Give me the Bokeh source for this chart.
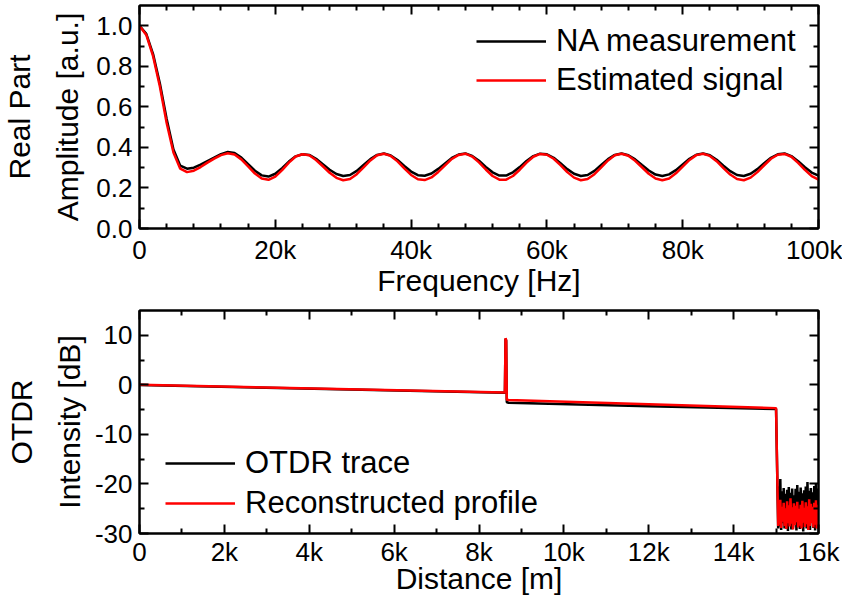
from bokeh.plotting import figure
from bokeh.layouts import column
from bokeh.models import (FixedTicker, LinearAxis, Legend, LegendItem, Range1d,
                          CustomLabelingPolicy)
from bokeh.embed import file_html
from bokeh.resources import INLINE

FONT = "Liberation Sans"

# ---------------- top panel data (frequency in Hz) ----------------
freq_hz = [i * 1000 for i in range(0, 101)]
na_measurement = [
    1.000, 0.960, 0.860, 0.715, 0.540, 0.390, 0.310, 0.295, 0.300, 0.315,
    0.333, 0.350, 0.367, 0.377, 0.372, 0.350, 0.317, 0.285, 0.262, 0.256,
    0.270, 0.298, 0.330, 0.356, 0.366, 0.363, 0.344, 0.317, 0.290, 0.269,
    0.259, 0.264, 0.284, 0.313, 0.342, 0.363, 0.370, 0.360, 0.338, 0.309,
    0.281, 0.263, 0.260, 0.271, 0.294, 0.321, 0.348, 0.365, 0.370, 0.358,
    0.334, 0.304, 0.277, 0.261, 0.261, 0.277, 0.303, 0.333, 0.357, 0.369,
    0.366, 0.349, 0.322, 0.293, 0.270, 0.259, 0.264, 0.284, 0.313, 0.342,
    0.363, 0.370, 0.361, 0.341, 0.313, 0.286, 0.266, 0.259, 0.267, 0.288,
    0.316, 0.344, 0.364, 0.370, 0.361, 0.339, 0.310, 0.283, 0.264, 0.259,
    0.270, 0.293, 0.322, 0.349, 0.366, 0.370, 0.357, 0.332, 0.302, 0.276,
    0.261,
]
estimated_signal = [
    1.000, 0.955, 0.850, 0.700, 0.520, 0.375, 0.295, 0.278, 0.285, 0.303,
    0.325, 0.345, 0.362, 0.371, 0.365, 0.341, 0.306, 0.271, 0.247, 0.240,
    0.256, 0.288, 0.325, 0.355, 0.366, 0.361, 0.338, 0.307, 0.275, 0.250,
    0.238, 0.244, 0.268, 0.302, 0.336, 0.361, 0.369, 0.358, 0.331, 0.297,
    0.264, 0.243, 0.239, 0.252, 0.279, 0.311, 0.343, 0.363, 0.369, 0.355,
    0.326, 0.291, 0.259, 0.241, 0.241, 0.259, 0.290, 0.325, 0.354, 0.368,
    0.364, 0.344, 0.313, 0.278, 0.251, 0.238, 0.244, 0.268, 0.302, 0.336,
    0.361, 0.369, 0.359, 0.334, 0.302, 0.270, 0.247, 0.238, 0.247, 0.272,
    0.305, 0.338, 0.362, 0.369, 0.358, 0.332, 0.298, 0.266, 0.244, 0.238,
    0.251, 0.278, 0.312, 0.344, 0.364, 0.368, 0.354, 0.324, 0.289, 0.258,
    0.241,
]
top_xticks = [0, 20000, 40000, 60000, 80000, 100000]
top_xtick_labels = ["0", "20k", "40k", "60k", "80k", "100k"]
top_xminor = [4000, 8000, 12000, 16000, 24000, 28000, 32000, 36000, 44000, 48000,
              52000, 56000, 64000, 68000, 72000, 76000, 84000, 88000, 92000, 96000]
top_yticks = [0.0, 0.2, 0.4, 0.6, 0.8, 1.0]
top_ytick_labels = ["0.0", "0.2", "0.4", "0.6", "0.8", "1.0"]
top_yminor = [0.1, 0.3, 0.5, 0.7, 0.9]

# ---------------- bottom panel data (distance in m) ----------------
otdr_x = [0, 8610, 8625, 8640, 8655, 8700, 12000, 15000, 15050,
          15060, 15080, 15100, 15120, 15140, 15160, 15180, 15200, 15220, 15240,
          15260, 15280, 15300, 15320, 15340, 15360, 15380, 15400, 15420, 15440,
          15460, 15480, 15500, 15520, 15540, 15560, 15580, 15600, 15620, 15640,
          15660, 15680, 15700, 15720, 15740, 15760, 15780, 15800, 15820, 15840,
          15860, 15880, 15900, 15920, 15940, 15960, 15980, 16000]
otdr_trace = [-0.05, -1.6, 9.3, 8.9, -3.5, -3.6, -4.3, -4.9, -29.0,
              -20.5, -28.6, -19.0, -29.3, -21.5, -27.9, -20.8, -29.0, -22.0, -28.4,
              -21.2, -29.5, -20.6, -28.1, -21.8, -29.2, -20.9, -28.8, -22.3, -27.7,
              -21.0, -29.4, -20.2, -28.3, -21.6, -29.1, -20.7, -28.5, -21.9, -29.6,
              -21.3, -28.0, -20.5, -29.0, -19.6, -28.7, -21.4, -29.3, -20.8, -27.8,
              -21.7, -28.9, -20.4, -29.4, -19.8, -28.2, -20.9, -29.0]
reconstructed = [0.0, -1.55, 9.4, 9.0, -3.0, -3.05, -3.9, -4.7, -28.5,
                 -24.1, -28.2, -23.2, -28.9, -24.6, -27.6, -23.8, -28.5, -24.9, -29.1,
                 -23.5, -27.9, -24.3, -28.6, -22.9, -28.0, -24.7, -29.2, -23.9, -28.3,
                 -24.4, -27.7, -23.6, -28.8, -25.0, -28.4, -24.2, -29.0, -23.4, -27.8,
                 -24.8, -28.7, -23.7, -28.1, -24.5, -29.3, -23.1, -28.5, -24.0, -27.9,
                 -24.6, -28.8, -23.8, -28.2, -23.3, -29.0, -24.2, -28.4]
bot_xticks = [0, 2000, 4000, 6000, 8000, 10000, 12000, 14000, 16000]
bot_xtick_labels = ["0", "2k", "4k", "6k", "8k", "10k", "12k", "14k", "16k"]
bot_xminor = [1000, 3000, 5000, 7000, 9000, 11000, 13000, 15000]
bot_yticks = [-30, -20, -10, 0, 10]
bot_ytick_labels = ["-30", "-20", "-10", "0", "10"]
bot_yminor = [-25, -15, -5, 5]


def style_axis(ax, ticks, minor, labels=None, tick_standoff=6, label_standoff=0):
    ax.ticker = FixedTicker(ticks=ticks, minor_ticks=minor)
    ax.major_tick_in = 9
    ax.major_tick_out = 0
    ax.minor_tick_in = 5
    ax.minor_tick_out = 0
    ax.major_tick_line_width = 2
    ax.minor_tick_line_width = 2
    ax.major_tick_line_color = "black"
    ax.minor_tick_line_color = "black"
    ax.axis_line_width = 2
    ax.axis_line_color = "black"
    if labels is not None:
        ax.major_label_overrides = {t: l for t, l in zip(ticks, labels)}
        ax.major_label_text_font = FONT
        ax.major_label_text_font_size = "26px"
        ax.major_label_text_color = "black"
        ax.major_label_standoff = tick_standoff
        ax.axis_label_text_font = FONT
        ax.axis_label_text_font_size = "30px"
        ax.axis_label_text_font_style = "normal"
        ax.axis_label_text_color = "black"
        ax.axis_label_standoff = label_standoff
        ax.axis_label_text_line_height = 1.45
    else:
        # mirrored frame axis: ticks only, no labels drawn at all
        ax.major_label_policy = CustomLabelingPolicy(
            code="for (const i of indices) { indices.unset(i) } return indices")
        ax.major_label_text_font_size = "0px"
        ax.major_label_standoff = 0


def make_fig(xr, yr, h, mb_top, mb_bottom):
    p = figure(width=842, height=h, x_range=xr, y_range=yr,
               output_backend="svg", toolbar_location=None,
               min_border_left=138, min_border_right=24,
               min_border_top=mb_top, min_border_bottom=mb_bottom)
    p.grid.visible = False
    p.outline_line_color = "black"
    p.outline_line_width = 2
    p.background_fill_color = "white"
    p.border_fill_color = "white"
    return p


def make_legend(items, loc, spacing):
    return Legend(items=items, location=loc, border_line_alpha=0,
                  background_fill_alpha=0, label_text_font=FONT,
                  label_text_font_size="31px", label_text_color="black",
                  glyph_width=70, glyph_height=20, label_standoff=10,
                  spacing=spacing, padding=0, margin=0)


# ---------------- top figure ----------------
p1 = make_fig(Range1d(0, 100000), Range1d(0, 1.1), 300, 5, 72)
r_na = p1.line(freq_hz, na_measurement, line_color="black", line_width=2.5)
r_est = p1.line(freq_hz, estimated_signal, line_color="#ff0000", line_width=2.5)
p1.xaxis.axis_label = "Frequency [Hz]"
p1.yaxis.axis_label = "Real Part\nAmplitude [a.u.]"
style_axis(p1.xaxis[0], top_xticks, top_xminor, top_xtick_labels, 6, -4)
style_axis(p1.yaxis[0], top_yticks, top_yminor, top_ytick_labels, 7, 9)
ax_t = LinearAxis()
ax_r = LinearAxis()
style_axis(ax_t, top_xticks, top_xminor)
style_axis(ax_r, top_yticks, top_yminor)
p1.add_layout(ax_t, "above")
p1.add_layout(ax_r, "right")
p1.add_layout(make_legend([LegendItem(label="NA measurement", renderers=[r_na]),
                           LegendItem(label="Estimated signal", renderers=[r_est])],
                          (337, 130), 3))

# ---------------- bottom figure ----------------
p2 = make_fig(Range1d(0, 16000), Range1d(-30, 15), 300, 10, 67)
r_tr = p2.line(otdr_x, otdr_trace, line_color="black", line_width=2.5)
r_rc = p2.line(otdr_x, reconstructed, line_color="#ff0000", line_width=2.5)
p2.xaxis.axis_label = "Distance [m]"
p2.yaxis.axis_label = "OTDR\nIntensity [dB]"
style_axis(p2.xaxis[0], bot_xticks, bot_xminor, bot_xtick_labels, 3, -8)
style_axis(p2.yaxis[0], bot_yticks, bot_yminor, bot_ytick_labels, 7, 6)
ax_t2 = LinearAxis()
ax_r2 = LinearAxis()
style_axis(ax_t2, bot_xticks, bot_xminor)
style_axis(ax_r2, bot_yticks, bot_yminor)
p2.add_layout(ax_t2, "above")
p2.add_layout(ax_r2, "right")
p2.add_layout(make_legend([LegendItem(label="OTDR trace", renderers=[r_tr]),
                           LegendItem(label="Reconstructed profile", renderers=[r_rc])],
                          (26, 12), 4))

layout = column(p1, p2, spacing=0)
open("out.html", "w").write(file_html(layout, INLINE))
